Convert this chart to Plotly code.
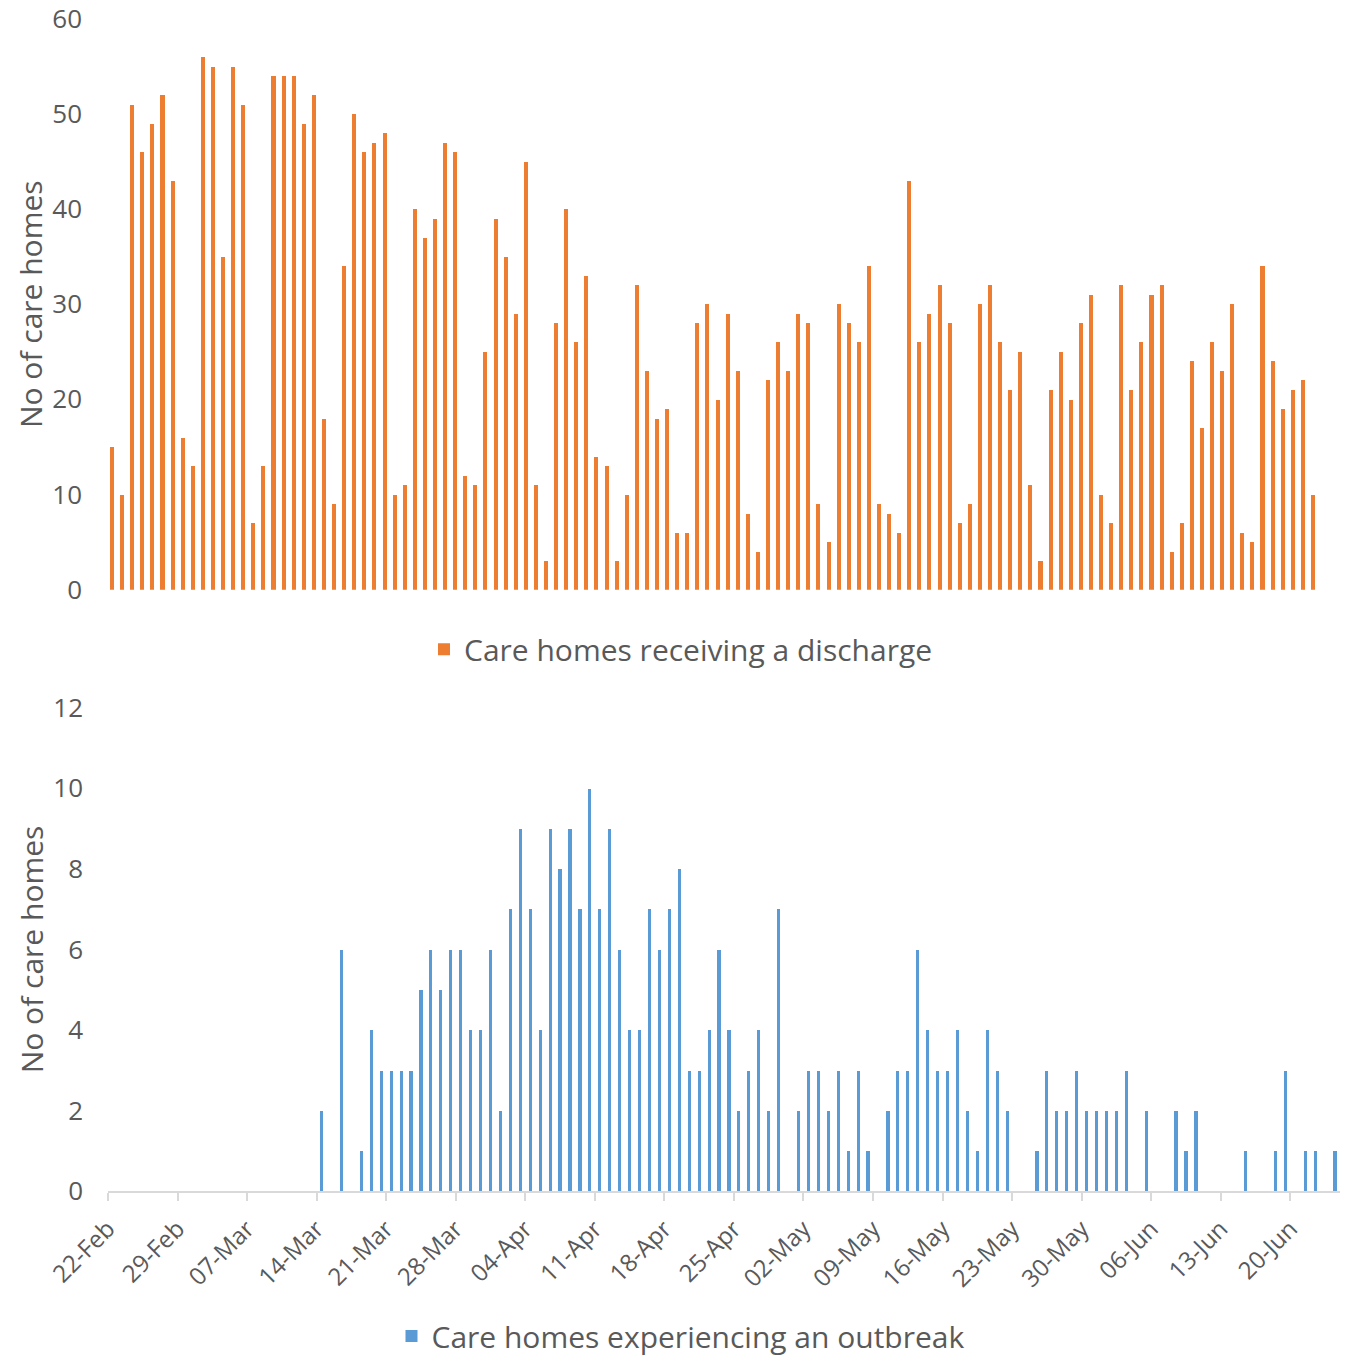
import pandas as pd
import plotly.graph_objects as go

# Top chart: care homes receiving a discharge (120 consecutive days)
discharge_dates = pd.date_range("2020-02-22", periods=120, freq="D").strftime("%Y-%m-%d").tolist()
discharge_values = [
    15, 10, 51, 46, 49, 52, 43, 16, 13, 56, 55, 35, 55, 51, 7, 13, 54, 54, 54, 49,
    52, 18, 9, 34, 50, 46, 47, 48, 10, 11, 40, 37, 39, 47, 46, 12, 11, 25, 39, 35,
    29, 45, 11, 3, 28, 40, 26, 33, 14, 13, 3, 10, 32, 23, 18, 19, 6, 6, 28, 30,
    20, 29, 23, 8, 4, 22, 26, 23, 29, 28, 9, 5, 30, 28, 26, 34, 9, 8, 6, 43,
    26, 29, 32, 28, 7, 9, 30, 32, 26, 21, 25, 11, 3, 21, 25, 20, 28, 31, 10, 7,
    32, 21, 26, 31, 32, 4, 7, 24, 17, 26, 23, 30, 6, 5, 34, 24, 19, 21, 22, 10,
]

# Bottom chart: care homes experiencing an outbreak (22-Feb to 24-Jun)
outbreak_dates = pd.date_range("2020-02-22", "2020-06-24", freq="D").strftime("%Y-%m-%d").tolist()
outbreak_values = [
    0, 0, 0, 0, 0, 0, 0, 0, 0, 0, 0, 0, 0, 0, 0, 0, 0, 0, 0, 0, 0,
    2, 0, 6, 0, 1, 4, 3, 3, 3, 3, 5, 6, 5, 6, 6, 4, 4, 6, 2, 7,
    9, 7, 4, 9, 8, 9, 7, 10, 7, 9, 6, 4, 4, 7, 6, 7, 8, 3, 3, 4,
    6, 4, 2, 3, 4, 2, 7, 0, 2, 3, 3, 2, 3, 1, 3, 1, 0, 2, 3, 3,
    6, 4, 3, 3, 4, 2, 1, 4, 3, 2, 0, 0, 1, 3, 2, 2, 3, 2, 2, 2,
    2, 3, 0, 2, 0, 0, 2, 1, 2, 0, 0, 0, 0, 1, 0, 0, 1, 3, 0, 1,
    1, 0, 1,
]

week_ticks = pd.date_range("2020-02-22", "2020-06-20", freq="7D").strftime("%Y-%m-%d").tolist()
week_labels = pd.date_range("2020-02-22", "2020-06-20", freq="7D").strftime("%d-%b").tolist()

ORANGE = "#ED7D31"
BLUE = "#5B9BD5"
TEXT = "#595959"
FONT = "Open Sans"
W, H = 1347, 1362


def fx(px):
    return px / W


def fy(px):
    return 1 - px / H


fig = go.Figure()
fig.add_trace(go.Bar(
    x=list(range(len(discharge_values))), y=discharge_values,
    name="Care homes receiving a discharge",
    marker=dict(color=ORANGE, line=dict(width=0)),
    width=0.4, xaxis="x", yaxis="y", legend="legend",
    customdata=discharge_dates,
))
fig.add_trace(go.Bar(
    x=outbreak_dates, y=outbreak_values,
    name="Care homes experiencing an outbreak",
    marker=dict(color=BLUE, line=dict(width=0)),
    width=0.32 * 86400000, xperiod=86400000, xperiodalignment="middle",
    xaxis="x2", yaxis="y2", legend="legend2",
))

fig.update_layout(
    width=W, height=H,
    margin=dict(l=0, r=0, t=0, b=0),
    paper_bgcolor="white", plot_bgcolor="white",
    font=dict(family=FONT, color=TEXT, size=26),
    xaxis=dict(domain=[fx(107), fx(1318)], range=[-0.5, 119.5], visible=False,
               anchor="y", automargin=False),
    yaxis=dict(domain=[fy(594), fy(19)], range=[0, 60],
               tickvals=[0, 10, 20, 30, 40, 50, 60], ticklabeloverflow="allow",
               showgrid=False, zeroline=False, showline=False, automargin=False,
               ticklabelstandoff=24, tickfont=dict(size=26, color=TEXT),
               title=dict(text="No of care homes", font=dict(size=30, color=TEXT), standoff=0),
               anchor="x"),
    xaxis2=dict(domain=[fx(108), fx(1340)], type="date", automargin=False,
                range=["2020-02-22", "2020-06-25"], ticklabeloverflow="allow",
                tickvals=week_ticks, ticktext=week_labels, tickangle=-45,
                tickfont=dict(size=24, color=TEXT), ticklabelstandoff=4,
                showline=True, linecolor="#D9D9D9", linewidth=2,
                ticks="outside", tickcolor="#D9D9D9", ticklen=8, tickwidth=2,
                showgrid=False, zeroline=False, anchor="y2"),
    yaxis2=dict(domain=[fy(1200), fy(713)], range=[0, 12],
                tickvals=[0, 2, 4, 6, 8, 10, 12], ticklabeloverflow="allow",
                showgrid=False, zeroline=False, showline=False, automargin=False,
                ticklabelstandoff=24, tickfont=dict(size=26, color=TEXT),
                title=dict(text="No of care homes", font=dict(size=30, color=TEXT), standoff=0),
                anchor="x2"),
    legend=dict(x=fx(681), y=fy(654), xanchor="center", yanchor="middle",
                orientation="h", font=dict(size=30, color=TEXT)),
    legend2=dict(x=fx(681), y=fy(1346), xanchor="center", yanchor="middle",
                 orientation="h", font=dict(size=30, color=TEXT)),
    showlegend=True,
    bargap=0,
)

fig.write_html(
    "out.html",
    config={"displayModeBar": False},
    post_script="document.body.style.margin='0';document.body.style.overflow='hidden';",
)
